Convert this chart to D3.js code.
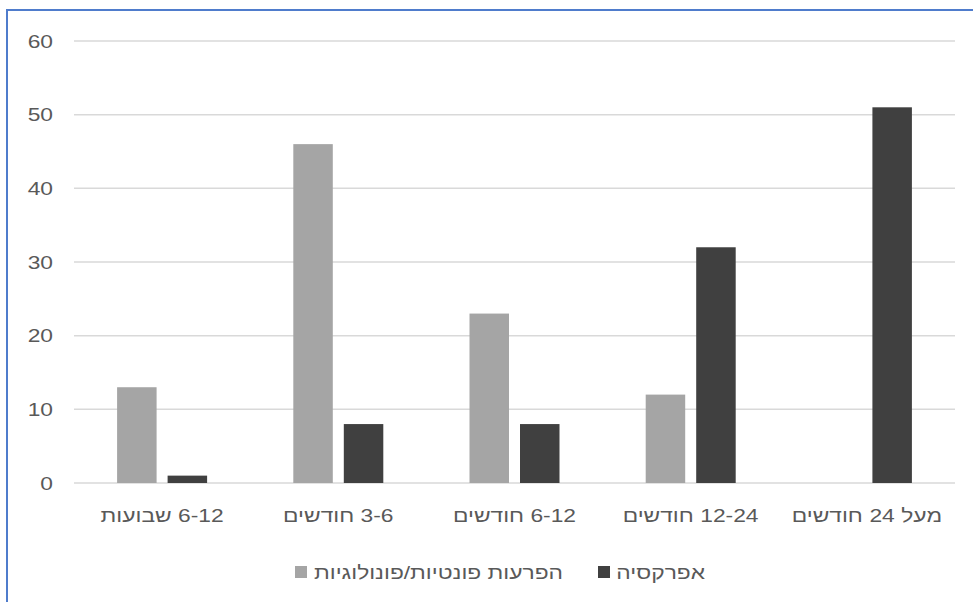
<!DOCTYPE html>
<html>
<head>
<meta charset="utf-8">
<script src="https://cdn.jsdelivr.net/npm/d3@7"></script>
<style>
  html, body { margin: 0; padding: 0; background: #fff; }
  svg { display: block; font-family: "Liberation Sans", Arial, sans-serif; }
</style>
</head>
<body>
<svg id="chart" width="973" height="602"></svg>
<script>
// Age groups along the x axis
const categories = ["6-12 שבועות", "3-6 חודשים", "6-12 חודשים", "12-24 חודשים", "מעל 24 חודשים"];
// Series names (legend order)
const seriesNames = ["הפרעות פונטיות/פונולוגיות", "אפרקסיה"];
// Values per series
const phonologicalValues = [13, 46, 23, 12, 0];
const apraxiaValues = [1, 8, 8, 32, 51];
// Y axis ticks
const yTicks = [0, 10, 20, 30, 40, 50, 60];

const seriesColors = ["#a5a5a5", "#404040"];
const textColor = "#595959";
const gridColor = "#d9d9d9";
const fontSize = "19px";
const stretchX = 1.2;                        // slightly widened lettering
const textStretch = `scale(${stretchX},1)`;

const svg = d3.select("#chart");

// Outer chart frame (blue border on top and left)
svg.append("rect")
  .attr("x", 7).attr("y", 10)
  .attr("width", 1000).attr("height", 700)
  .attr("fill", "none")
  .attr("stroke", "#4f7ccc")
  .attr("stroke-width", 2);

const plot = { left: 74, right: 955, top: 41, bottom: 483 };

const x0 = d3.scaleBand().domain(categories).range([plot.left, plot.right]).padding(0);
const bw = x0.bandwidth();
const groupWidth = 90;
const x1 = d3.scaleBand().domain(seriesNames)
  .range([(bw - groupWidth) / 2, (bw + groupWidth) / 2])
  .paddingInner(0.218).paddingOuter(0);
const y = d3.scaleLinear().domain([0, 60]).range([plot.bottom, plot.top]);

// Gridlines
svg.append("g")
  .selectAll("line")
  .data(yTicks)
  .join("line")
  .attr("x1", plot.left).attr("x2", plot.right)
  .attr("y1", d => y(d)).attr("y2", d => y(d))
  .attr("stroke", gridColor)
  .attr("stroke-width", 1.5);

// Y axis labels
const yAxis = d3.axisLeft(y).tickValues(yTicks).tickSize(0).tickPadding(0);
const yG = svg.append("g").attr("transform", "translate(53,0)").call(yAxis);
yG.select(".domain").remove();
yG.selectAll("text")
  .attr("x", 0)
  .attr("transform", textStretch)
  .attr("fill", textColor)
  .style("font-size", fontSize)
  .style("font-family", "\"Liberation Sans\", Arial, sans-serif");

// Bars
const rows = categories.map((c, i) => ({
  category: c,
  values: [
    { series: seriesNames[0], value: phonologicalValues[i], color: seriesColors[0] },
    { series: seriesNames[1], value: apraxiaValues[i], color: seriesColors[1] }
  ]
}));

svg.append("g")
  .selectAll("g")
  .data(rows)
  .join("g")
  .attr("transform", d => `translate(${x0(d.category)},0)`)
  .selectAll("rect")
  .data(d => d.values.filter(v => v.value > 0))
  .join("rect")
  .attr("x", d => x1(d.series))
  .attr("width", x1.bandwidth())
  .attr("y", d => y(d.value))
  .attr("height", d => y(0) - y(d.value))
  .attr("fill", d => d.color);

// Labels read right to left: the first word sits at the right end of the line,
// while each number keeps its own left-to-right digits.
function visualWords(label) {
  return label.split(" ").reverse();
}

// X axis labels: the axis places each tick, each label is laid out word by word
const xAxis = d3.axisBottom(x0).tickSize(0).tickPadding(0);
const xG = svg.append("g").attr("transform", "translate(0,522)").call(xAxis);
xG.select(".domain").remove();
xG.selectAll(".tick").each(function (label) {
  const tick = d3.select(this);
  tick.select("text").remove();
  const g = tick.append("g").attr("transform", textStretch);
  const words = visualWords(label);
  const texts = words.map(w => g.append("text")
    .attr("x", 0).attr("y", 0)
    .attr("text-anchor", "middle")
    .attr("fill", textColor)
    .style("font-size", fontSize)
    .style("font-family", "\"Liberation Sans\", Arial, sans-serif")
    .text(w));
  const widths = texts.map(t => t.node().getBBox().width);
  const space = 5.3;
  const total = d3.sum(widths) + space * (words.length - 1);
  let left = -total / 2;
  texts.forEach((t, i) => {
    t.attr("x", left + widths[i] / 2);
    left += widths[i] + space;
  });
});

// Legend
const legendItems = [
  { name: seriesNames[0], color: seriesColors[0], sx: 295, tx: 563 },
  { name: seriesNames[1], color: seriesColors[1], sx: 598, tx: 705 }
];
const lg = svg.append("g").selectAll("g").data(legendItems).join("g");
lg.append("rect")
  .attr("x", d => d.sx).attr("y", 566)
  .attr("width", 12).attr("height", 12)
  .attr("fill", d => d.color);
lg.append("g")
  .attr("transform", d => `translate(${d.tx},579)`)
  .append("text")
  .attr("transform", textStretch)
  .attr("text-anchor", "end")
  .attr("fill", textColor)
  .style("font-size", fontSize)
  .text(d => d.name);
</script>
</body>
</html>
